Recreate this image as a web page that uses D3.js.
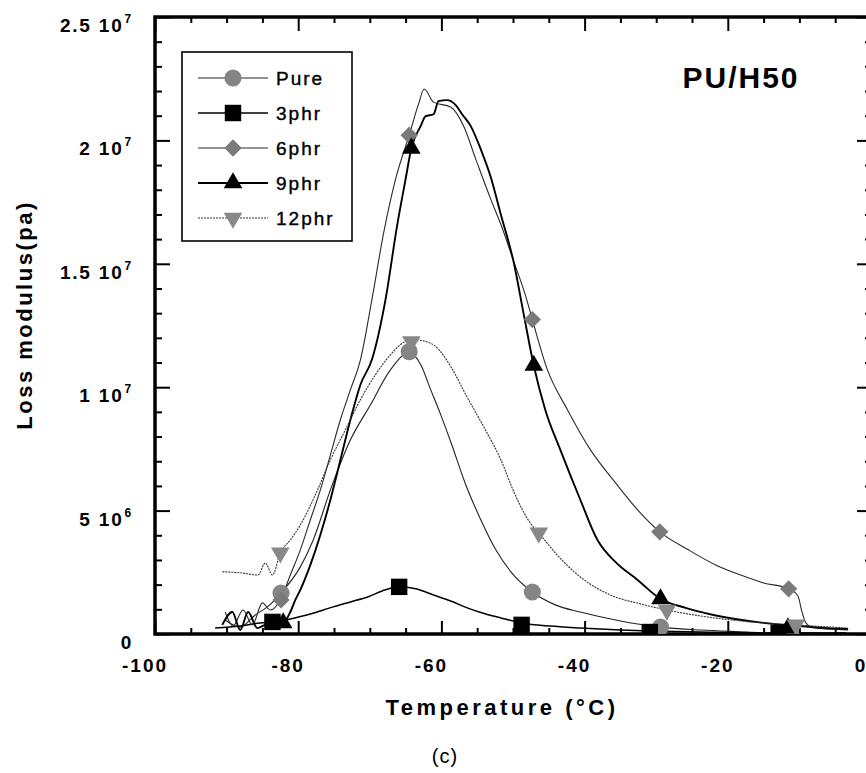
<!DOCTYPE html>
<html>
<head>
<meta charset="utf-8">
<script src="https://cdn.jsdelivr.net/npm/d3@7"></script>
<style>
  body { margin: 0; background: #fff; }
  text { font-family: "Liberation Sans", Arial, sans-serif; fill: #000; }
</style>
</head>
<body>
<svg id="chart" width="866" height="773"></svg>
<script>
// temperature (°C), loss modulus (10^6 Pa)
const pure = [[-90.2, 0.57], [-88.1, 0.28], [-86.0, 0.77], [-84.3, 1.10], [-82.4, 1.66], [-79.7, 2.72],
  [-77.9, 3.81], [-75.5, 5.84], [-72.7, 7.87], [-69.9, 9.29], [-67.1, 10.71], [-64.5, 11.40],
  [-62.9, 10.92], [-61.5, 9.90], [-60.1, 8.89], [-58.7, 7.79], [-56.6, 6.05], [-54.5, 4.63],
  [-52.4, 3.41], [-50.3, 2.52], [-47.3, 1.70], [-44.1, 1.18], [-40.6, 0.89], [-35.0, 0.53],
  [-29.4, 0.28], [-23.8, 0.16], [-17.2, 0.08], [-11.2, 0.0], [-3.5, 0.04]];
const phr3 = [[-91.6, 0.24], [-88.1, 0.32], [-85.3, 0.45], [-83.6, 0.49], [-81.1, 0.61], [-78.3, 0.81],
  [-75.1, 1.10], [-72.7, 1.30], [-70.3, 1.50], [-67.8, 1.79], [-65.9, 1.91], [-63.6, 1.83],
  [-61.1, 1.58], [-58.7, 1.34], [-56.4, 1.06], [-53.8, 0.81], [-51.7, 0.65], [-48.8, 0.45],
  [-44.8, 0.32], [-40.6, 0.24], [-35.0, 0.16], [-30.9, 0.12], [-23.8, 0.08], [-12.9, 0.04], [-3.5, 0.04]];
const phr6 = [[-90.2, 0.89], [-89.1, 0.32], [-87.7, 0.97], [-86.4, 0.37], [-85.0, 1.26], [-83.9, 0.97],
  [-82.5, 1.38], [-81.1, 2.39], [-79.7, 3.41], [-78.3, 4.63], [-76.9, 5.84], [-75.5, 7.26],
  [-74.1, 8.69], [-72.7, 9.90], [-71.3, 11.12], [-69.7, 13.56], [-68.1, 16.20], [-66.4, 18.43],
  [-64.5, 20.21], [-63.2, 21.47], [-62.4, 22.08], [-61.1, 21.55], [-58.7, 21.35], [-56.9, 20.58],
  [-55.2, 19.24], [-53.1, 17.61], [-51.7, 16.60], [-49.9, 15.10], [-48.3, 13.76], [-47.3, 12.74],
  [-45.2, 10.71], [-42.4, 9.09], [-39.2, 7.47], [-35.7, 6.13], [-32.6, 5.03], [-29.5, 4.14],
  [-25.5, 3.41], [-21.7, 2.80], [-18.2, 2.39], [-15.0, 2.07], [-11.5, 1.83], [-10.2, 1.54],
  [-9.7, 0.97], [-9.1, 0.45], [-8.0, 0.24], [-3.2, 0.16]];
const phr9 = [[-90.6, 0.37], [-89.2, 0.89], [-88.1, 0.16], [-87.0, 0.89], [-85.7, 0.24], [-84.6, 0.37],
  [-83.2, 0.41], [-82.1, 0.45], [-81.1, 0.89], [-80.4, 1.38], [-79.7, 1.79], [-78.3, 2.80],
  [-76.9, 4.02], [-75.5, 5.44], [-74.1, 7.06], [-72.7, 8.69], [-71.3, 10.11], [-69.7, 11.12],
  [-67.8, 13.56], [-66.2, 16.52], [-65.0, 18.43], [-64.2, 19.68], [-62.9, 20.58], [-62.2, 20.98],
  [-61.1, 21.06], [-60.4, 21.59], [-59.2, 21.63], [-58.0, 21.43], [-57.1, 21.06], [-55.9, 20.58],
  [-54.5, 19.64], [-53.1, 18.51], [-51.7, 17.00], [-49.9, 15.06], [-48.5, 12.95], [-47.1, 10.88],
  [-45.5, 9.09], [-43.4, 7.47], [-40.6, 5.44], [-38.2, 3.81], [-35.7, 2.92], [-32.6, 2.19],
  [-29.4, 1.42], [-25.9, 1.06], [-22.0, 0.77], [-15.0, 0.45], [-8.0, 0.28], [-3.2, 0.20]];
const phr12 = [[-90.6, 2.52], [-88.1, 2.48], [-85.6, 2.39], [-84.6, 2.88], [-83.6, 2.39], [-82.5, 3.29],
  [-81.1, 3.81], [-79.7, 4.42], [-77.6, 5.64], [-75.5, 7.06], [-73.4, 8.28], [-71.3, 9.50],
  [-69.2, 10.51], [-67.1, 11.32], [-65.3, 11.81], [-64.1, 11.93], [-62.2, 11.85], [-60.8, 11.65],
  [-58.7, 10.84], [-56.6, 9.70], [-54.1, 8.40], [-51.7, 7.06], [-49.7, 5.64], [-47.6, 4.50],
  [-46.4, 4.10], [-44.1, 3.29], [-40.6, 2.31], [-36.4, 1.58], [-32.2, 1.22], [-28.5, 0.97],
  [-23.8, 0.73], [-19.6, 0.57], [-10.5, 0.37], [-3.2, 0.24]];

// marker positions along each curve
const pureMarks = [[-82.4, 1.66], [-64.5, 11.44], [-47.3, 1.70], [-29.4, 0.28], [-11.2, 0.0]];
const phr3Marks = [[-83.6, 0.49], [-65.9, 1.91], [-48.8, 0.37], [-30.9, 0.08], [-12.9, 0.04]];
const phr6Marks = [[-82.4, 1.38], [-64.5, 20.21], [-47.3, 12.74], [-29.5, 4.14], [-11.5, 1.83]];
const phr9Marks = [[-82.1, 0.45], [-64.2, 19.68], [-47.1, 10.88], [-29.4, 1.42], [-11.6, 0.24]];
const phr12Marks = [[-82.5, 3.29], [-64.2, 11.85], [-46.4, 4.10], [-28.5, 0.97], [-10.5, 0.37]];

const seriesNames = ["Pure", "3phr", "6phr", "9phr", "12phr"];
const tempTicks = [-100, -80, -60, -40, -20, 0];
const lossTicks = [0, 5e6, 1e7, 1.5e7, 2e7, 2.5e7];
const lossTickLabels = [["0", ""], ["5 10", "6"], ["1 10", "7"], ["1.5 10", "7"], ["2 10", "7"], ["2.5 10", "7"]];

const series = [
  { name: "Pure", data: pure, marks: pureMarks, stroke: "#222", width: 1.1, dash: null, shape: "circle", fill: "#858585" },
  { name: "3phr", data: phr3, marks: phr3Marks, stroke: "#000", width: 1.5, dash: null, shape: "square", fill: "#000" },
  { name: "6phr", data: phr6, marks: phr6Marks, stroke: "#2a2a2a", width: 1.1, dash: null, shape: "diamond", fill: "#7a7a7a" },
  { name: "9phr", data: phr9, marks: phr9Marks, stroke: "#000", width: 1.9, dash: null, shape: "triangle", fill: "#000" },
  { name: "12phr", data: phr12, marks: phr12Marks, stroke: "#333", width: 1.1, dash: "2,1", shape: "triangleDown", fill: "#888" }
];

const svg = d3.select("#chart");
const x = d3.scaleLinear().domain([-100, 0]).range([155, 871]);
const y = d3.scaleLinear().domain([0, 2.5e7]).range([634, 17]);

svg.append("defs").append("clipPath").attr("id", "plot-clip")
  .append("rect")
  .attr("x", x(-100)).attr("y", y(2.5e7))
  .attr("width", x(0) - x(-100)).attr("height", y(0) - y(2.5e7));

function symbolPath(shape) {
  if (shape === "circle") return d3.symbol(d3.symbolCircle, 230)();
  if (shape === "square") return d3.symbol(d3.symbolSquare, 270)();
  if (shape === "diamond") return d3.symbol(d3.symbolSquare, 150)();
  return d3.symbol(d3.symbolTriangle, 150)();
}
function symbolRotate(shape) {
  if (shape === "diamond") return " rotate(45)";
  if (shape === "triangleDown") return " rotate(180)";
  return "";
}

// ticks (inward) on all four sides
const minorX = d3.range(-100, 1, 5).filter((d) => d % 20 !== 0);
const minorY = d3.range(0, 2.5e7 + 1, 1e6).filter((d) => d % 5e6 !== 0);

function tickGroup(axis, transform) {
  const g = svg.append("g").attr("transform", transform).call(axis);
  g.select(".domain").remove();
  g.selectAll(".tick line").attr("stroke", "#000").attr("stroke-width", 2);
  g.selectAll(".tick text").remove();
}
tickGroup(d3.axisBottom(x).tickValues(minorX).tickSize(-6), `translate(0,${y(0)})`);
tickGroup(d3.axisBottom(x).tickValues(tempTicks).tickSize(-13), `translate(0,${y(0)})`);
tickGroup(d3.axisTop(x).tickValues(minorX).tickSize(-6), `translate(0,${y(2.5e7)})`);
tickGroup(d3.axisTop(x).tickValues(tempTicks).tickSize(-14), `translate(0,${y(2.5e7)})`);
tickGroup(d3.axisLeft(y).tickValues(minorY).tickSize(-7), `translate(${x(-100)},0)`);
tickGroup(d3.axisLeft(y).tickValues(lossTicks).tickSize(-15), `translate(${x(-100)},0)`);
tickGroup(d3.axisRight(y).tickValues(minorY).tickSize(-6), `translate(${x(0)},0)`);
tickGroup(d3.axisRight(y).tickValues(lossTicks).tickSize(-14), `translate(${x(0)},0)`);

// frame
svg.append("path")
  .attr("d", `M${x(0)},${y(2.5e7)}H${x(-100)}V${y(0)}H${x(0)}`)
  .attr("fill", "none").attr("stroke", "#000").attr("stroke-width", 3.5);

// tick labels
svg.append("g").selectAll("text")
  .data(tempTicks)
  .join("text")
  .attr("x", (d) => x(d) - 10)
  .attr("y", y(0) + 38)
  .attr("text-anchor", "middle")
  .attr("font-size", 19).attr("font-weight", "bold").attr("letter-spacing", 2)
  .text((d) => d);

const yLab = svg.append("g").selectAll("text")
  .data(lossTicks)
  .join("text")
  .attr("x", 133)
  .attr("y", (d) => y(d) + 15)
  .attr("text-anchor", "end")
  .attr("font-size", 19).attr("font-weight", "bold").attr("letter-spacing", 1.8);
yLab.append("tspan").text((d, i) => lossTickLabels[i][0]);
yLab.append("tspan")
  .attr("dy", -9).attr("dx", 1).attr("font-size", 12)
  .text((d, i) => lossTickLabels[i][1]);

// curves
const line = d3.line()
  .x((d) => x(d[0]))
  .y((d) => y(d[1] * 1e6))
  .curve(d3.curveMonotoneX);

const plot = svg.append("g").attr("clip-path", "url(#plot-clip)");
series.forEach((s) => {
  plot.append("path")
    .datum(s.data)
    .attr("d", line)
    .attr("fill", "none")
    .attr("stroke", s.stroke)
    .attr("stroke-width", s.width)
    .attr("stroke-dasharray", s.dash);
});
series.forEach((s) => {
  plot.append("g").selectAll("path")
    .data(s.marks)
    .join("path")
    .attr("d", symbolPath(s.shape))
    .attr("transform", (d) => `translate(${x(d[0])},${y(d[1] * 1e6)})${symbolRotate(s.shape)}`)
    .attr("fill", s.fill);
});

// legend
const legend = svg.append("g");
legend.append("rect")
  .attr("x", 182).attr("y", 52).attr("width", 170).attr("height", 189)
  .attr("fill", "#fff").attr("stroke", "#000").attr("stroke-width", 1.6);
series.forEach((s, i) => {
  const ly = 78 + i * 35;
  legend.append("line")
    .attr("x1", 198).attr("x2", 268).attr("y1", ly).attr("y2", ly)
    .attr("stroke", s.stroke).attr("stroke-width", s.width).attr("stroke-dasharray", s.dash);
  legend.append("path")
    .attr("d", symbolPath(s.shape))
    .attr("transform", `translate(233,${ly})${symbolRotate(s.shape)}`)
    .attr("fill", s.fill);
  legend.append("text")
    .attr("x", 276).attr("y", ly + 7)
    .attr("font-size", 19).attr("letter-spacing", 2)
    .attr("stroke", "#000").attr("stroke-width", 0.4)
    .text(seriesNames[i]);
});

// titles
svg.append("text")
  .attr("x", 741).attr("y", 88)
  .attr("text-anchor", "middle")
  .attr("font-size", 30).attr("font-weight", "bold").attr("letter-spacing", 2)
  .text("PU/H50");

svg.append("text")
  .attr("transform", "translate(32,315) rotate(-90)")
  .attr("text-anchor", "middle")
  .attr("font-size", 22).attr("font-weight", "bold").attr("letter-spacing", 2.5)
  .text("Loss modulus(pa)");

svg.append("text")
  .attr("x", 502).attr("y", 715)
  .attr("text-anchor", "middle")
  .attr("font-size", 22).attr("font-weight", "bold").attr("letter-spacing", 3.5)
  .text("Temperature (°C)");

svg.append("text")
  .attr("x", 445).attr("y", 763)
  .attr("text-anchor", "middle")
  .attr("font-size", 20).attr("letter-spacing", 1)
  .text("(c)");
</script>
</body>
</html>
